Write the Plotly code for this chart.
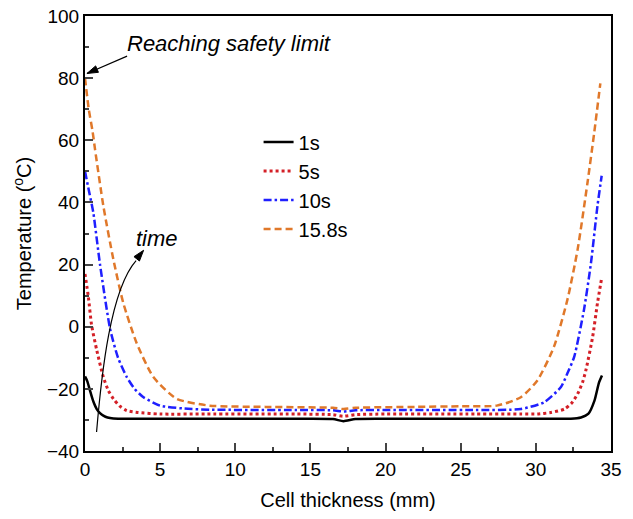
import math
import plotly.graph_objects as go

# ---- data ----
x_1s = [0, 0.15, 0.33, 0.55, 0.78, 1.0, 1.22, 1.5, 1.89, 3, 8, 14, 16.5, 17.2, 18, 20, 26, 31, 32.33, 33.0, 33.5, 33.9, 34.2, 34.4]
y_1s = [-16, -17.5, -20.5, -24, -26.5, -27.8, -28.6, -29.2, -29.5, -29.6, -29.6, -29.6, -29.7, -30.4, -29.7, -29.6, -29.6, -29.6, -29.6, -29.2, -28, -23.8, -18, -15.7]

x_5s = [0, 0.22, 0.44, 0.78, 1.22, 1.55, 1.89, 2.3, 2.78, 3.5, 5, 8, 14, 16.5, 17.2, 18, 20, 26, 29, 30.1, 31.0, 31.9, 32.4, 32.78, 33.1, 33.33, 33.78, 34.1, 34.38]
y_5s = [17, 9.7, 0.5, -7.5, -16.2, -20.5, -23.2, -25.5, -27, -27.6, -28.1, -28.1, -28.1, -28.3, -28.8, -28.3, -28.1, -28.1, -28.1, -28.1, -27.6, -26.5, -24.5, -21.6, -18, -14, -3.2, 7.6, 15.7]

x_10s = [0, 0.25, 0.55, 1.0, 1.67, 2.2, 2.78, 3.3, 3.89, 5.0, 6.5, 8.3, 14, 16.5, 17.2, 18, 20, 26, 29.0, 30.55, 31.67, 32.1, 32.55, 33.2, 33.67, 34.1, 34.38]
y_10s = [50, 44, 36.8, 20, -0.7, -10, -16.2, -20, -22.7, -25.4, -26.3, -26.7, -26.8, -26.9, -27.3, -26.9, -26.8, -26.8, -26.5, -24.3, -19.4, -15, -9.7, 5.4, 20.6, 38.9, 48.6]

x_158s = [0, 0.25, 0.5, 0.67, 1.22, 1.89, 2.55, 3.44, 4.55, 6.1, 8.3, 12, 16.5, 17.2, 18, 22, 25, 27.4, 29.0, 30.1, 31.2, 32.1, 32.78, 33.44, 33.89, 34.29]
y_158s = [80, 70, 63, 57, 38.9, 21.6, 7.6, -5.3, -16.2, -23.2, -25.4, -25.8, -26.1, -26.5, -26.1, -25.8, -25.6, -25.4, -22.7, -17.3, -6.5, 8.7, 24.9, 46.5, 62.7, 78.3]

series_names = ["1s", "5s", "10s", "15.8s"]
x_ticks = [0, 5, 10, 15, 20, 25, 30, 35]
y_ticks = [-40, -20, 0, 20, 40, 60, 80, 100]
x_range = [0, 35]
y_range = [-40, 100]

# annotation anchor points (data coordinates)
safety_text = [9.6, 91.0]
safety_arrow_head = [0.13, 81.5]
safety_arrow_tail = [2.8, 87.1]
time_text = [4.8, 28.4]
time_path = "M 0.77,-33.9 C 1.1,-15 1.7,12 3.4,21.3"
time_arrow_head = [3.9, 24.6]
time_arrow_tail = [3.3, 21.0]

FONT = "Arial, Liberation Sans, sans-serif"
W, H = 633, 519
ML, MR, MT, MB = 85, 22, 16, 68
PX_X = (W - ML - MR) / (x_range[1] - x_range[0])
PX_Y = (H - MT - MB) / (y_range[1] - y_range[0])

styles = [
    dict(color="#000000", width=2.5, dash="solid"),
    dict(color="#D42027", width=3, dash="3px,3px"),
    dict(color="#1F1FFF", width=2.5, dash="8px,3px,2.5px,3px"),
    dict(color="#E0782A", width=2.5, dash="7px,4px"),
]
xs = [x_1s, x_5s, x_10s, x_158s]
ys = [y_1s, y_5s, y_10s, y_158s]

fig = go.Figure()
for name, x, y, st in zip(series_names, xs, ys, styles):
    fig.add_trace(go.Scatter(x=x, y=y, mode="lines", name=name,
                             line=dict(shape="spline", smoothing=0.6, **st)))

fig.update_layout(
    width=W, height=H,
    margin=dict(l=ML, r=MR, t=MT, b=MB, autoexpand=False),
    paper_bgcolor="white", plot_bgcolor="white",
    font=dict(family=FONT, size=19, color="#000"),
    showlegend=True,
    legend=dict(x=0.33, y=0.755, xanchor="left", yanchor="top",
                bgcolor="rgba(0,0,0,0)", font=dict(size=20)),
    xaxis=dict(range=x_range, tickvals=x_ticks, ticks="inside", ticklen=8, tickwidth=1.5,
               showline=True, linewidth=2, linecolor="#000", mirror=True,
               showgrid=False, zeroline=False, automargin=False, ticklabeloverflow="allow",
               minor=dict(dtick=2.5, ticks="inside", ticklen=4, tickwidth=1.5, showgrid=False),
               title=dict(text="Cell thickness (mm)", font=dict(size=20), standoff=14)),
    yaxis=dict(range=y_range, tickvals=y_ticks, ticks="inside", ticklen=8, tickwidth=1.5,
               showline=True, linewidth=2, linecolor="#000", mirror=True,
               showgrid=False, zeroline=False, automargin=False, ticklabeloverflow="allow",
               minor=dict(dtick=10, ticks="inside", ticklen=4, tickwidth=1.5, showgrid=False),
               title=dict(text="Temperature (<sup>o</sup>C)", font=dict(size=20), standoff=10)),
)


def arrow_head_path(head, tail, length=11, half_width=3.5):
    dx = (head[0] - tail[0]) * PX_X
    dy = (head[1] - tail[1]) * PX_Y
    n = math.hypot(dx, dy)
    ux, uy = dx / n, dy / n
    bx, by = -uy, ux
    p1 = (head[0] - (ux * length - bx * half_width) / PX_X,
          head[1] - (uy * length - by * half_width) / PX_Y)
    p2 = (head[0] - (ux * length + bx * half_width) / PX_X,
          head[1] - (uy * length + by * half_width) / PX_Y)
    return f"M {head[0]},{head[1]} L {p1[0]},{p1[1]} L {p2[0]},{p2[1]} Z"


fig.add_annotation(x=safety_text[0], y=safety_text[1], xref="x", yref="y",
                   text="<i>Reaching safety limit</i>", showarrow=False,
                   font=dict(size=22))
fig.add_shape(type="line", x0=safety_arrow_tail[0], y0=safety_arrow_tail[1],
              x1=safety_arrow_head[0], y1=safety_arrow_head[1], xref="x", yref="y",
              line=dict(color="#000", width=1.2))
fig.add_shape(type="path", path=arrow_head_path(safety_arrow_head, safety_arrow_tail),
              xref="x", yref="y", fillcolor="#000", line=dict(color="#000", width=1))

fig.add_annotation(x=time_text[0], y=time_text[1], xref="x", yref="y",
                   text="<i>time</i>", showarrow=False, font=dict(size=22))
fig.add_shape(type="path", path=time_path, xref="x", yref="y",
              line=dict(color="#000", width=1.2))
fig.add_shape(type="path", path=arrow_head_path(time_arrow_head, time_arrow_tail),
              xref="x", yref="y", fillcolor="#000", line=dict(color="#000", width=1))

fig.write_html("out.html",
               config={"displayModeBar": False},
               post_script="document.body.style.margin='0';document.body.style.overflow='hidden';")
